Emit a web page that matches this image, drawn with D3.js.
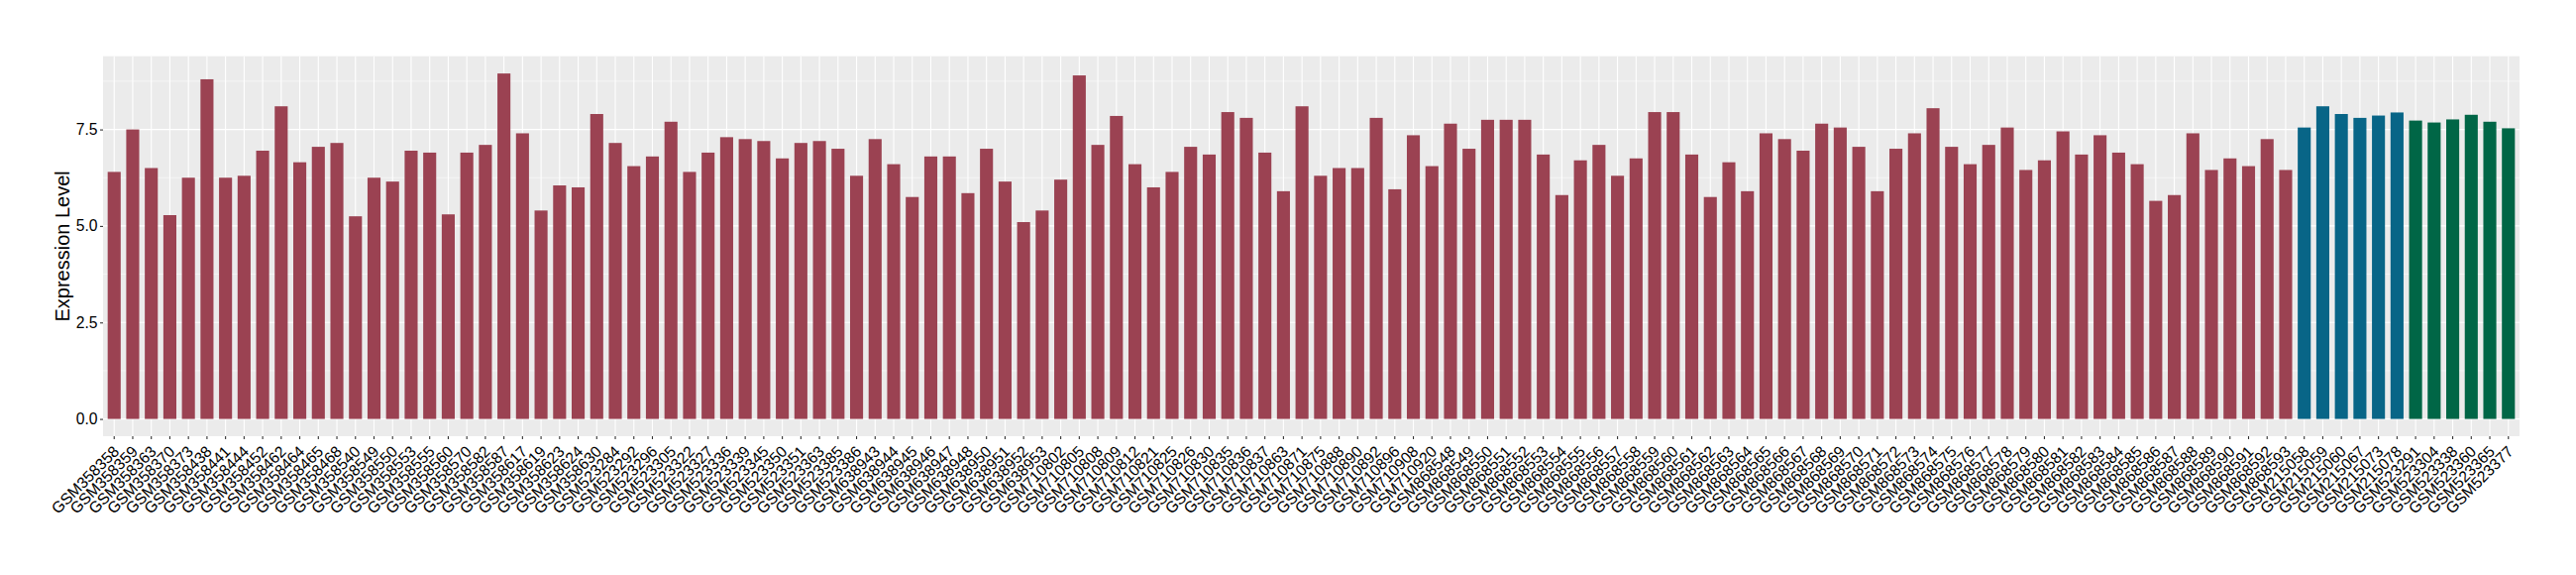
<!DOCTYPE html>
<html>
<head>
<meta charset="utf-8">
<script src="https://cdn.jsdelivr.net/npm/d3@7"></script>
<style>
  html, body { margin: 0; padding: 0; background: #fff; }
  svg { display: block; font-family: "Liberation Sans", Arial, sans-serif; }
</style>
</head>
<body>
<svg id="chart" width="2600" height="580"></svg>
<script>
// ---- data ----
const groupA = ["GSM358358","GSM358359","GSM358363","GSM358370","GSM358373","GSM358438","GSM358441","GSM358444","GSM358452","GSM358462",
"GSM358464","GSM358465","GSM358468","GSM358540","GSM358549","GSM358550","GSM358553","GSM358555","GSM358560","GSM358570",
"GSM358582","GSM358587","GSM358617","GSM358619","GSM358623","GSM358624","GSM358630","GSM523284","GSM523292","GSM523296",
"GSM523305","GSM523322","GSM523327","GSM523336","GSM523339","GSM523345","GSM523350","GSM523351","GSM523363","GSM523385",
"GSM523386","GSM638943","GSM638944","GSM638945","GSM638946","GSM638947","GSM638948","GSM638950","GSM638951","GSM638952",
"GSM638953","GSM710802","GSM710805","GSM710808","GSM710809","GSM710812","GSM710821","GSM710825","GSM710826","GSM710830",
"GSM710835","GSM710836","GSM710837","GSM710863","GSM710871","GSM710875","GSM710888","GSM710890","GSM710892","GSM710896",
"GSM710908","GSM710920","GSM868548","GSM868549","GSM868550","GSM868551","GSM868552","GSM868553","GSM868554","GSM868555",
"GSM868556","GSM868557","GSM868558","GSM868559","GSM868560","GSM868561","GSM868562","GSM868563","GSM868564","GSM868565",
"GSM868566","GSM868567","GSM868568","GSM868569","GSM868570","GSM868571","GSM868572","GSM868573","GSM868574","GSM868575",
"GSM868576","GSM868577","GSM868578","GSM868579","GSM868580","GSM868581","GSM868582","GSM868583","GSM868584","GSM868585",
"GSM868586","GSM868587","GSM868588","GSM868589","GSM868590","GSM868591","GSM868592","GSM868593"];
const valuesA = [6.40,7.50,6.50,5.28,6.25,8.80,6.25,6.30,6.95,8.10,
6.65,7.05,7.15,5.25,6.25,6.15,6.95,6.90,5.30,6.90,
7.10,8.95,7.40,5.40,6.05,6.00,7.90,7.15,6.55,6.80,
7.70,6.40,6.90,7.30,7.25,7.20,6.75,7.15,7.20,7.00,
6.30,7.25,6.60,5.75,6.80,6.80,5.85,7.00,6.15,5.10,
5.40,6.20,8.90,7.10,7.85,6.60,6.00,6.40,7.05,6.85,
7.95,7.80,6.90,5.90,8.10,6.30,6.50,6.50,7.80,5.95,
7.35,6.55,7.65,7.00,7.75,7.75,7.75,6.85,5.80,6.70,
7.10,6.30,6.75,7.95,7.95,6.85,5.75,6.65,5.90,7.40,
7.25,6.95,7.65,7.55,7.05,5.90,7.00,7.40,8.05,7.05,
6.60,7.10,7.55,6.45,6.70,7.45,6.85,7.35,6.90,6.60,
5.65,5.80,7.40,6.45,6.75,6.55,7.25,6.45];
const groupB = ["GSM215058","GSM215059","GSM215060","GSM215067","GSM215073","GSM215078"];
const valuesB = [7.55,8.10,7.90,7.80,7.86,7.94];
const groupC = ["GSM523291","GSM523304","GSM523338","GSM523360","GSM523365","GSM523377"];
const valuesC = [7.73,7.68,7.76,7.88,7.70,7.53];
const groupColors = ["#9B4252","#086587","#006646"];
const yTicks = [0, 2.5, 5, 7.5];
const yTitle = "Expression Level";

// ---- build ----
const rows = [];
[[groupA, valuesA], [groupB, valuesB], [groupC, valuesC]].forEach(([names, vals], g) => {
  names.forEach((n, i) => rows.push({ name: n, value: vals[i], group: g }));
});

const panel = { left: 104, right: 2543, top: 56.7, bottom: 440 };
const svg = d3.select("#chart");

const x = d3.scaleBand()
  .domain(rows.map(d => d.name))
  .range([panel.left, panel.right])
  .paddingInner(0.3)
  .paddingOuter(0.25);

const maxV = d3.max(rows, d => d.value);
const y = d3.scaleLinear()
  .domain([-0.05 * maxV, 1.05 * maxV])
  .range([panel.bottom, panel.top]);

// panel background
svg.append("rect")
  .attr("x", panel.left).attr("y", panel.top)
  .attr("width", panel.right - panel.left).attr("height", panel.bottom - panel.top)
  .attr("fill", "#EBEBEB");

// minor grid
const minor = yTicks.slice(0, -1).map((t, i) => (t + yTicks[i + 1]) / 2).concat([yTicks[yTicks.length - 1] + 1.25]);
svg.append("g").selectAll("line").data(minor.filter(v => y(v) >= panel.top)).join("line")
  .attr("x1", panel.left).attr("x2", panel.right)
  .attr("y1", d => y(d)).attr("y2", d => y(d))
  .attr("stroke", "#fff").attr("stroke-width", 0.55);

// major grid horizontal
svg.append("g").selectAll("line").data(yTicks).join("line")
  .attr("x1", panel.left).attr("x2", panel.right)
  .attr("y1", d => y(d)).attr("y2", d => y(d))
  .attr("stroke", "#fff").attr("stroke-width", 1.1);

// major grid vertical
svg.append("g").selectAll("line").data(rows).join("line")
  .attr("x1", d => x(d.name) + x.bandwidth() / 2).attr("x2", d => x(d.name) + x.bandwidth() / 2)
  .attr("y1", panel.top).attr("y2", panel.bottom)
  .attr("stroke", "#fff").attr("stroke-width", 1.1);

// bars
svg.append("g").selectAll("rect").data(rows).join("rect")
  .attr("x", d => x(d.name))
  .attr("width", x.bandwidth())
  .attr("y", d => y(d.value))
  .attr("height", d => y(0) - y(d.value))
  .attr("fill", d => groupColors[d.group]);

// y axis
const yAxis = svg.append("g")
  .attr("transform", `translate(${panel.left},0)`)
  .call(d3.axisLeft(y).tickValues(yTicks).tickFormat(d3.format(".1f")).tickSize(3).tickPadding(2.5));
yAxis.select(".domain").remove();
yAxis.selectAll(".tick line").attr("stroke", "#333").attr("stroke-width", 1.1);
yAxis.selectAll(".tick text").attr("font-size", 15.7).attr("fill", "#000")
  .attr("font-family", "Liberation Sans, Arial, sans-serif");

// x axis
const xAxis = svg.append("g")
  .attr("transform", `translate(0,${panel.bottom})`)
  .call(d3.axisBottom(x).tickSize(3).tickPadding(4));
xAxis.select(".domain").remove();
xAxis.selectAll(".tick line").attr("stroke", "#333").attr("stroke-width", 1.1);
xAxis.selectAll(".tick text")
  .attr("font-size", 15.8).attr("fill", "#000")
  .attr("font-family", "Liberation Sans, Arial, sans-serif")
  .attr("text-anchor", "end")
  .attr("x", 0).attr("y", 0)
  .attr("dy", null)
  .attr("dominant-baseline", "hanging")
  .attr("transform", "translate(-2,8.5) rotate(-45)");

// y title
svg.append("text")
  .attr("transform", `translate(${65},${(panel.top + panel.bottom) / 2}) rotate(-90)`)
  .attr("text-anchor", "middle")
  .attr("dominant-baseline", "middle")
  .attr("font-size", 20)
  .attr("fill", "#000")
  .text(yTitle);
</script>
</body>
</html>
